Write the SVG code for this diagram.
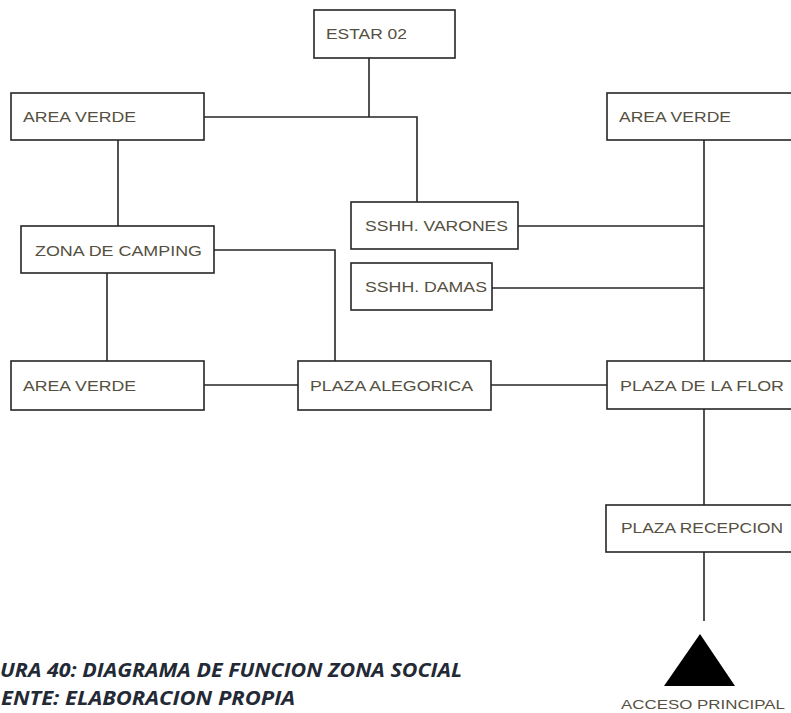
<svg xmlns="http://www.w3.org/2000/svg" width="791" height="713" viewBox="0 0 791 713">
<style>
.box{fill:#fff;stroke:#262626;stroke-width:1.6}
.lbl{font-family:"Liberation Sans",Arial,sans-serif;font-size:15.5px;fill:#55503f}
.con{fill:none;stroke:#262626;stroke-width:1.6}
.cap{font-family:"Open Sans","Noto Sans",sans-serif;font-weight:bold;font-style:italic;font-size:20px;fill:#232a36}
</style>
<rect width="791" height="713" fill="#fff"/>
<g id="connectors">
<polyline class="con" points="369,58 369,117"/>
<polyline class="con" points="204,117 417,117 417,202"/>
<polyline class="con" points="118,140 118,226"/>
<polyline class="con" points="214,250 335,250 335,361"/>
<polyline class="con" points="107,273 107,361"/>
<polyline class="con" points="704,140 704,361"/>
<polyline class="con" points="518,226 704,226"/>
<polyline class="con" points="492,288 704,288"/>
<polyline class="con" points="204,385 298,385"/>
<polyline class="con" points="491,385 607,385"/>
<polyline class="con" points="704,409 704,505"/>
<polyline class="con" points="704,552 704,621"/>
</g>
<g id="estar02"><rect class="box" x="314" y="10" width="141" height="48"/><text class="lbl" x="326" y="39" textLength="81" lengthAdjust="spacingAndGlyphs">ESTAR 02</text></g>
<g id="areaverde1"><rect class="box" x="11" y="93" width="193" height="47"/><text class="lbl" x="23" y="122" textLength="113" lengthAdjust="spacingAndGlyphs">AREA VERDE</text></g>
<g id="areaverde2"><rect class="box" x="607" y="93" width="200" height="47"/><text class="lbl" x="619" y="122" textLength="112" lengthAdjust="spacingAndGlyphs">AREA VERDE</text></g>
<g id="varones"><rect class="box" x="351" y="202" width="167" height="47"/><text class="lbl" x="365" y="231" textLength="143" lengthAdjust="spacingAndGlyphs">SSHH. VARONES</text></g>
<g id="damas"><rect class="box" x="351" y="263" width="141" height="47"/><text class="lbl" x="365" y="292" textLength="122" lengthAdjust="spacingAndGlyphs">SSHH. DAMAS</text></g>
<g id="camping"><rect class="box" x="21" y="226" width="193" height="47"/><text class="lbl" x="35" y="256" textLength="167" lengthAdjust="spacingAndGlyphs">ZONA DE CAMPING</text></g>
<g id="areaverde3"><rect class="box" x="11" y="361" width="193" height="49"/><text class="lbl" x="23" y="391" textLength="113" lengthAdjust="spacingAndGlyphs">AREA VERDE</text></g>
<g id="alegorica"><rect class="box" x="298" y="361" width="193" height="49"/><text class="lbl" x="310" y="391" textLength="163" lengthAdjust="spacingAndGlyphs">PLAZA ALEGORICA</text></g>
<g id="flor"><rect class="box" x="607" y="361" width="200" height="48"/><text class="lbl" x="620" y="391" textLength="164" lengthAdjust="spacingAndGlyphs">PLAZA DE LA FLOR</text></g>
<g id="recepcion"><rect class="box" x="606" y="505" width="200" height="47"/><text class="lbl" x="621" y="533" textLength="162" lengthAdjust="spacingAndGlyphs">PLAZA RECEPCION</text></g>
<g id="acceso"><polygon points="700,634 664,686 735,686" fill="#000"/><text class="lbl" x="621" y="709" style="font-size:13.5px" textLength="164" lengthAdjust="spacingAndGlyphs">ACCESO PRINCIPAL</text></g>
<g id="caption">
<text class="cap" x="0" y="677" textLength="462" lengthAdjust="spacingAndGlyphs">URA 40: DIAGRAMA DE FUNCION ZONA SOCIAL</text>
<text class="cap" x="1" y="705" textLength="294" lengthAdjust="spacingAndGlyphs">ENTE: ELABORACION PROPIA</text>
</g>
</svg>
